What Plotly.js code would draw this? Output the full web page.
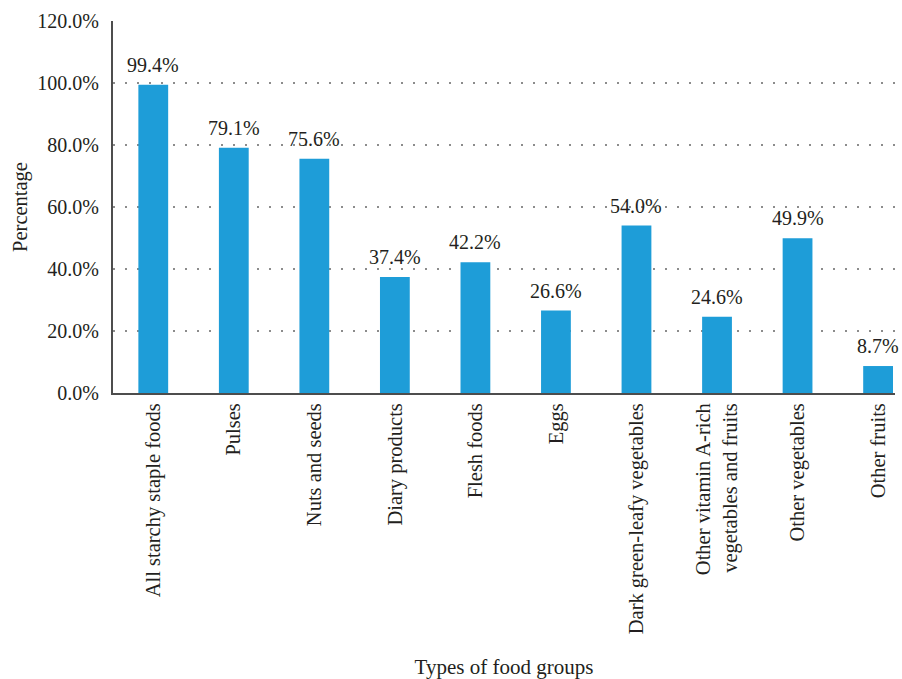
<!DOCTYPE html>
<html>
<head>
<meta charset="utf-8">
<script src="https://cdn.plot.ly/plotly-3.0.1.min.js"></script>
<style>html,body{margin:0;padding:0;background:#fff;}#chart{width:902px;height:679px;}</style>
</head>
<body>
<div id="chart"></div>
<script>
var categories = [
  "All starchy staple foods",
  "Pulses",
  "Nuts and seeds",
  "Diary products",
  "Flesh foods",
  "Eggs",
  "Dark green-leafy vegetables",
  "Other vitamin A-rich<br>vegetables and fruits",
  "Other vegetables",
  "Other fruits"
];
var percentages = [99.4, 79.1, 75.6, 37.4, 42.2, 26.6, 54.0, 24.6, 49.9, 8.7];
var yTickValues = [0, 20, 40, 60, 80, 100, 120];
var yTickLabels = ["0.0%", "20.0%", "40.0%", "60.0%", "80.0%", "100.0%", "120.0%"];

var fontFamily = "'Liberation Serif', 'DejaVu Serif', serif";
var textColor = "#231f20";

var positions = categories.map(function(c, i){ return i; });

var trace = {
  type: "bar",
  x: positions,
  y: percentages,
  marker: {color: "#1e9dd8"},
  hoverinfo: "skip"
};

var valueLabels = percentages.map(function(v, i){
  return {
    x: positions[i],
    y: v,
    xref: "x",
    yref: "y",
    text: v.toFixed(1) + "%",
    showarrow: false,
    yanchor: "bottom",
    yshift: 7,
    font: {family: fontFamily, size: 20, color: textColor}
  };
});

var layout = {
  width: 902,
  height: 679,
  margin: {l: 113, r: 7, t: 21, b: 286},
  paper_bgcolor: "#fff",
  plot_bgcolor: "#fff",
  bargap: 0.63,
  showlegend: false,
  font: {family: fontFamily, size: 20, color: textColor},
  annotations: valueLabels,
  xaxis: {
    range: [-0.5, 9.21],
    tickmode: "array",
    tickvals: positions,
    ticktext: categories,
    tickangle: -90,
    ticks: "",
    showgrid: false,
    zeroline: false,
    showline: true,
    linecolor: "#4d4d4d",
    linewidth: 2,
    tickfont: {family: fontFamily, size: 20.5, color: textColor},
    title: {text: "Types of food groups", font: {family: fontFamily, size: 21, color: textColor}, standoff: 42}
  },
  yaxis: {
    range: [0, 120],
    tickmode: "array",
    tickvals: yTickValues,
    ticktext: yTickLabels,
    ticks: "",
    showgrid: true,
    gridcolor: "#8c8c8c",
    griddash: "2px,10px",
    gridwidth: 1.2,
    zeroline: false,
    showline: true,
    linecolor: "#4d4d4d",
    linewidth: 2,
    ticklabelstandoff: 8,
    tickfont: {family: fontFamily, size: 20, color: textColor},
    title: {text: "Percentage", font: {family: fontFamily, size: 20.5, color: textColor}, standoff: 4}
  }
};

Plotly.newPlot("chart", [trace], layout, {displayModeBar: false, staticPlot: true});
</script>
</body>
</html>
